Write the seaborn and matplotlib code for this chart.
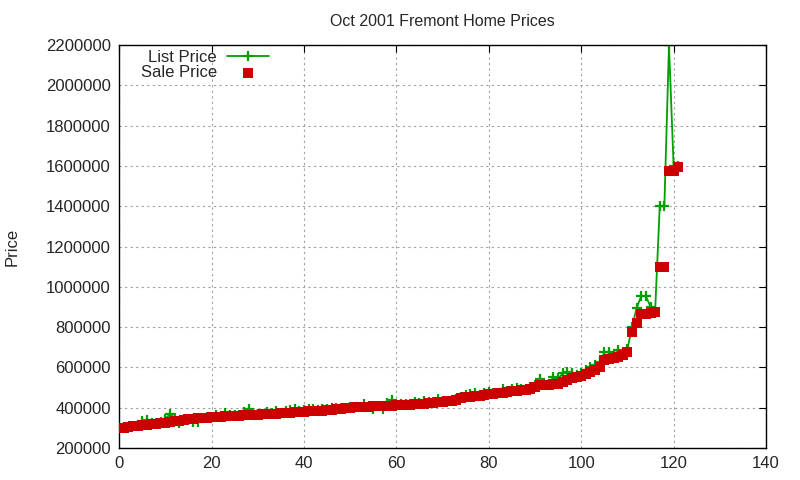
import numpy as np
import pandas as pd
import matplotlib
matplotlib.use("Agg")
import matplotlib.pyplot as plt
import seaborn as sns

# house index (sorted by sale price)
house = list(range(1, 122))

list_price = [
    305000, 305000, 310000, 315000, 335000, 338000, 322000, 325000, 328000, 345000,
    368000, 350000, 325000, 345000, 340000, 330000, 330000, 350000, 352000, 355000,
    362000, 360000, 375000, 362000, 362000, 365000, 380000, 395000, 370000, 368000,
    370000, 380000, 372000, 385000, 375000, 385000, 388000, 395000, 385000, 390000,
    395000, 395000, 390000, 395000, 393000, 398000, 398000, 400000, 400000, 402000,
    403000, 405000, 420000, 410000, 395000, 410000, 395000, 425000, 440000, 415000,
    416000, 418000, 420000, 430000, 422000, 435000, 428000, 430000, 445000, 432000,
    435000, 440000, 445000, 452000, 465000, 470000, 472000, 465000, 475000, 478000,
    472000, 475000, 492000, 485000, 495000, 500000, 495000, 495000, 505000, 512000,
    540000, 520000, 520000, 552000, 545000, 570000, 575000, 572000, 560000, 570000,
    588000, 600000, 610000, 625000, 675000, 675000, 660000, 685000, 670000, 690000,
    800000, 896000, 954000, 954000, 901000, 880000, 1400000, 1400000, 2200000, 1600000,
    1600000,
]

sale_price = [
    300000, 302000, 308000, 310000, 312000, 315000, 318000, 320000, 323000, 326000,
    330000, 333000, 336000, 340000, 343000, 345000, 347000, 348000, 350000, 352000,
    354000, 356000, 357000, 358000, 360000, 361000, 362000, 364000, 365000, 366000,
    367000, 368000, 370000, 371000, 372000, 373000, 375000, 377000, 379000, 381000,
    382000, 383000, 384000, 386000, 388000, 390000, 393000, 395000, 398000, 400000,
    401000, 402000, 404000, 405000, 406000, 407000, 408000, 409000, 410000, 411000,
    413000, 414000, 415000, 417000, 418000, 420000, 422000, 424000, 426000, 428000,
    431000, 435000, 440000, 447000, 452000, 455000, 458000, 460000, 463000, 466000,
    469000, 472000, 475000, 478000, 481000, 484000, 487000, 490000, 495000, 505000,
    512000, 514000, 515000, 516000, 520000, 530000, 538000, 545000, 550000, 555000,
    565000, 575000, 585000, 600000, 636000, 640000, 645000, 650000, 660000, 676000,
    777000, 822000, 866000, 866000, 868000, 876000, 1100000, 1100000, 1575000, 1575000,
    1596000,
]

df = pd.DataFrame({"house": house, "list": list_price, "sale": sale_price})

sns.set_style("white")
plt.rcParams["font.family"] = ["Liberation Sans", "DejaVu Sans"]

fig = plt.figure(figsize=(8, 4.8), dpi=100)
ax = fig.add_axes([0.149, 0.0667, 0.8085, 0.8393])

sns.lineplot(data=df, x="house", y="list", ax=ax, color="#00a000", linewidth=1.3,
             marker="+", markersize=7, markeredgewidth=1.6, markeredgecolor="#00a000",
             label="List Price")
sns.scatterplot(data=df, x="house", y="sale", ax=ax, color="#cc0000", marker="s",
                s=44, linewidth=0, label="Sale Price", zorder=3)

ax.set_xlim(0, 140)
ax.set_ylim(200000, 2200000)
ax.set_xticks(range(0, 141, 20))
ax.set_yticks(range(200000, 2200001, 200000))
ax.ticklabel_format(style="plain", axis="y")
ax.grid(True, color="#a0a0a0", linestyle=(0, (2, 3)), linewidth=0.8)
ax.tick_params(direction="in", top=True, right=True, length=5, labelsize=12,
               color="black", width=0.8, pad=6)
for s in ax.spines.values():
    s.set_color("black")
    s.set_linewidth(1.0)

ax.set_xlabel("")
ax.set_ylabel("Price", fontsize=12, labelpad=19)
ax.set_title("Oct 2001 Fremont Home Prices", fontsize=11.5, pad=14)

ax.legend(loc="upper right", bbox_to_anchor=(0.236, 0.997), frameon=False, markerfirst=False,
          fontsize=12, handlelength=2.5, borderaxespad=0.0, labelspacing=0.05,
          handletextpad=0.6, borderpad=0.2)

fig.savefig("out.png", dpi=100)
